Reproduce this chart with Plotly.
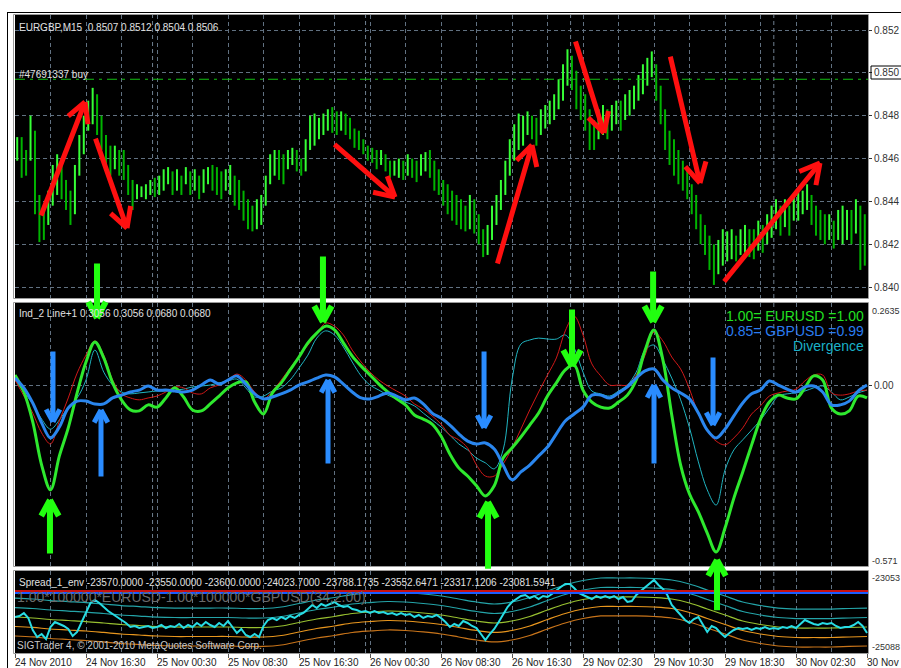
import math
import plotly.graph_objects as go

W, H = 901, 668
FONT = "Liberation Sans"

# ---------------- EURGBP M15 price bars (half-hour high / low) ----------------
bar_high = [
    0.8470, 0.8470, 0.8464, 0.8480, 0.8473, 0.8443, 0.8438, 0.8445, 0.8457, 0.8462,
    0.8459, 0.8450, 0.8445, 0.8457, 0.8471, 0.8480, 0.8487, 0.8493, 0.8490, 0.8480,
    0.8471, 0.8466, 0.8466, 0.8464, 0.8464, 0.8457, 0.8450, 0.8448, 0.8447, 0.8448,
    0.8450, 0.8451, 0.8452, 0.8455, 0.8456, 0.8454, 0.8455, 0.8452, 0.8456, 0.8454,
    0.8455, 0.8452, 0.8455, 0.8456, 0.8457, 0.8456, 0.8454, 0.8455, 0.8457, 0.8452,
    0.8450, 0.8445, 0.8441, 0.8438, 0.8441, 0.8443, 0.8452, 0.8462, 0.8464, 0.8464,
    0.8462, 0.8464, 0.8465, 0.8464, 0.8460, 0.8469, 0.8480, 0.8481, 0.8479, 0.8481,
    0.8483, 0.8484, 0.8482, 0.8482, 0.8481, 0.8479, 0.8474, 0.8473, 0.8469, 0.8466,
    0.8465, 0.8464, 0.8464, 0.8462, 0.8459, 0.8459, 0.8460, 0.8459, 0.8462, 0.8460,
    0.8459, 0.8462, 0.8463, 0.8464, 0.8459, 0.8455, 0.8450, 0.8448, 0.8445, 0.8443,
    0.8441, 0.8438, 0.8443, 0.8441, 0.8434, 0.8427, 0.8429, 0.8438, 0.8443, 0.8450,
    0.8459, 0.8469, 0.8476, 0.8481, 0.8480, 0.8482, 0.8480, 0.8479, 0.8483, 0.8485,
    0.8487, 0.8490, 0.8497, 0.8504, 0.8511, 0.8508, 0.8501, 0.8494, 0.8490, 0.8483,
    0.8478, 0.8483, 0.8485, 0.8483, 0.8485, 0.8487, 0.8487, 0.8490, 0.8492, 0.8494,
    0.8499, 0.8504, 0.8507, 0.8510, 0.8504, 0.8494, 0.8483, 0.8473, 0.8469, 0.8464,
    0.8459, 0.8455, 0.8448, 0.8443, 0.8434, 0.8429, 0.8424, 0.8420, 0.8422, 0.8427,
    0.8426, 0.8427, 0.8424, 0.8427, 0.8429, 0.8427, 0.8427, 0.8431, 0.8429, 0.8434,
    0.8438, 0.8441, 0.8438, 0.8441, 0.8438, 0.8443, 0.8445, 0.8445, 0.8448, 0.8443,
    0.8438, 0.8436, 0.8434, 0.8434, 0.8431, 0.8436, 0.8438, 0.8436, 0.8436, 0.8441,
    0.8438, 0.8434,
]
bar_low = [
    0.8459, 0.8451, 0.8452, 0.8459, 0.8434, 0.8421, 0.8422, 0.8429, 0.8438, 0.8443,
    0.8441, 0.8436, 0.8429, 0.8434, 0.8452, 0.8462, 0.8473, 0.8476, 0.8471, 0.8464,
    0.8455, 0.8452, 0.8455, 0.8452, 0.8450, 0.8443, 0.8436, 0.8441, 0.8442, 0.8441,
    0.8443, 0.8442, 0.8443, 0.8445, 0.8448, 0.8443, 0.8445, 0.8443, 0.8448, 0.8443,
    0.8445, 0.8441, 0.8444, 0.8448, 0.8445, 0.8443, 0.8441, 0.8445, 0.8443, 0.8438,
    0.8436, 0.8431, 0.8427, 0.8426, 0.8427, 0.8429, 0.8438, 0.8448, 0.8452, 0.8450,
    0.8448, 0.8455, 0.8457, 0.8454, 0.8452, 0.8454, 0.8464, 0.8466, 0.8469, 0.8471,
    0.8473, 0.8472, 0.8471, 0.8473, 0.8471, 0.8469, 0.8465, 0.8464, 0.8462, 0.8459,
    0.8458, 0.8455, 0.8457, 0.8454, 0.8451, 0.8452, 0.8451, 0.8450, 0.8452, 0.8451,
    0.8449, 0.8452, 0.8454, 0.8451, 0.8445, 0.8443, 0.8438, 0.8434, 0.8431, 0.8429,
    0.8427, 0.8426, 0.8427, 0.8425, 0.8420, 0.8414, 0.8415, 0.8422, 0.8429, 0.8436,
    0.8443, 0.8452, 0.8459, 0.8464, 0.8466, 0.8471, 0.8469, 0.8466, 0.8471, 0.8474,
    0.8476, 0.8478, 0.8483, 0.8487, 0.8494, 0.8492, 0.8483, 0.8478, 0.8473, 0.8464,
    0.8464, 0.8469, 0.8471, 0.8469, 0.8473, 0.8476, 0.8473, 0.8478, 0.8480, 0.8483,
    0.8487, 0.8490, 0.8494, 0.8498, 0.8487, 0.8476, 0.8464, 0.8457, 0.8452, 0.8448,
    0.8445, 0.8441, 0.8434, 0.8427, 0.8420, 0.8415, 0.8408, 0.8401, 0.8406, 0.8410,
    0.8412, 0.8413, 0.8412, 0.8415, 0.8416, 0.8414, 0.8413, 0.8417, 0.8416, 0.8420,
    0.8423, 0.8427, 0.8424, 0.8428, 0.8424, 0.8431, 0.8431, 0.8434, 0.8436, 0.8429,
    0.8424, 0.8422, 0.8420, 0.8422, 0.8418, 0.8422, 0.8420, 0.8422, 0.8420, 0.8425,
    0.8408, 0.8410,
]

# ---------------- Ind_2 indicator, hourly values ----------------
eurusd_line = [
    0.035, -0.019, -0.114, -0.251, -0.330, -0.222, -0.133, -0.022, 0.076, 0.140,
    0.089, 0.010, -0.044, -0.076, -0.079, -0.060, -0.067, -0.038, -0.006, -0.035,
    -0.076, -0.079, -0.057, -0.032, -0.006, 0.010, 0.013, -0.051, -0.089, -0.022,
    0.010, 0.051, 0.092, 0.137, 0.168, 0.190, 0.178, 0.137, 0.095, 0.063,
    0.035, 0.006, -0.019, -0.041, -0.060, -0.092, -0.105, -0.121, -0.159, -0.216,
    -0.260, -0.286, -0.317, -0.349, -0.317, -0.229, -0.197, -0.162, -0.124, -0.086,
    -0.032, 0.010, 0.051, 0.067, -0.013, -0.051, -0.067, -0.070, -0.051, -0.029,
    0.019, 0.114, 0.178, 0.083, -0.092, -0.251, -0.343, -0.400, -0.467, -0.527,
    -0.451, -0.356, -0.273, -0.187, -0.105, -0.051, -0.029, -0.038, -0.041, -0.006,
    0.032, 0.019, -0.070, -0.089, -0.079, -0.032, -0.038,
]
gbpusd_line = [
    0.025, -0.006, -0.054, -0.117, -0.165, -0.130, -0.070, -0.048, -0.048, -0.057,
    -0.057, -0.038, -0.029, -0.019, -0.013, 0.000, -0.013, -0.013, -0.016, -0.019,
    -0.013, 0.003, 0.019, 0.006, 0.019, 0.032, 0.006, -0.025, -0.041, -0.035,
    -0.025, -0.013, 0.003, 0.013, 0.025, 0.035, 0.029, 0.006, -0.019, -0.038,
    -0.041, -0.032, -0.022, -0.032, -0.044, -0.038, -0.057, -0.086, -0.102, -0.124,
    -0.152, -0.175, -0.184, -0.181, -0.200, -0.251, -0.298, -0.273, -0.251, -0.222,
    -0.194, -0.152, -0.111, -0.089, -0.067, -0.029, -0.029, -0.038, -0.022, -0.003,
    0.025, 0.048, 0.054, 0.019, -0.006, -0.022, -0.041, -0.086, -0.140, -0.165,
    -0.137, -0.095, -0.054, -0.025, -0.013, 0.016, 0.003, -0.010, -0.019, -0.003,
    0.000, -0.019, -0.060, -0.060, -0.048, -0.016, 0.003,
]
eurusd_raw = [
    0.019, -0.032, -0.086, -0.149, -0.184, -0.111, -0.038, 0.041, 0.098, 0.143,
    0.098, 0.019, -0.025, -0.038, -0.044, -0.038, -0.032, -0.019, -0.003, -0.006,
    -0.022, -0.025, -0.006, 0.003, 0.019, 0.038, 0.019, -0.019, -0.041, -0.016,
    0.019, 0.057, 0.095, 0.130, 0.165, 0.200, 0.190, 0.162, 0.114, 0.076,
    0.044, 0.019, 0.000, -0.016, -0.032, -0.057, -0.073, -0.095, -0.121, -0.156,
    -0.171, -0.197, -0.251, -0.286, -0.286, -0.248, -0.197, -0.137, -0.076, -0.019,
    0.035, 0.089, 0.175, 0.222, 0.162, 0.070, 0.032, 0.003, 0.003, 0.003,
    0.035, 0.098, 0.171, 0.143, 0.092, 0.054, -0.010, -0.089, -0.143, -0.175,
    -0.187, -0.165, -0.133, -0.089, -0.063, -0.032, -0.022, -0.016, -0.010, 0.016,
    0.035, 0.035, -0.022, -0.029, -0.025, -0.016, -0.013,
]
gbpusd_raw = [
    0.019, -0.019, -0.057, -0.105, -0.137, -0.108, -0.067, -0.038, 0.019, 0.114,
    0.044, 0.003, -0.019, -0.025, -0.022, -0.019, -0.016, -0.016, -0.013, -0.010,
    -0.003, 0.000, 0.003, 0.010, 0.016, 0.022, -0.006, -0.035, -0.032, -0.016,
    -0.006, 0.019, 0.057, 0.098, 0.152, 0.175, 0.162, 0.124, 0.076, 0.032,
    0.003, -0.013, -0.029, -0.041, -0.051, -0.063, -0.086, -0.108, -0.130, -0.156,
    -0.184, -0.203, -0.229, -0.244, -0.263, -0.203, 0.019, 0.133, 0.146, 0.152,
    0.149, 0.149, 0.162, 0.121, 0.044, -0.016, -0.025, -0.032, -0.016, 0.003,
    0.044, 0.114, 0.130, 0.083, 0.025, -0.044, -0.133, -0.241, -0.330, -0.378,
    -0.267, -0.203, -0.171, -0.140, -0.108, -0.070, -0.032, -0.025, -0.022, -0.016,
    -0.006, 0.000, -0.019, -0.044, -0.035, -0.022, -0.013,
]

# ---------------- Spread_1_env, half-hour spread and 2-hour envelope middle ----------------
spread_values = [
    -24195, -24170, -24095, -24219, -24517, -24691, -24617, -24741, -24443, -24319,
    -24368, -24418, -24492, -24666, -24567, -24319, -24071, -23847, -23773, -23847,
    -23946, -24046, -24120, -24195, -24269, -24343, -24443, -24418, -24468, -24443,
    -24418, -24468, -24443, -24393, -24468, -24418, -24443, -24368, -24468, -24393,
    -24443, -24343, -24418, -24319, -24393, -24443, -24343, -24418, -24294, -24443,
    -24592, -24492, -24641, -24691, -24617, -24691, -24418, -24269, -24219, -24269,
    -24195, -24244, -24170, -24219, -24145, -24095, -23996, -23897, -23971, -23872,
    -23922, -23872, -23822, -23897, -23946, -23922, -23996, -24021, -24071, -24046,
    -24095, -24046, -24095, -24071, -24120, -24095, -24145, -24095, -24145, -24120,
    -24195, -24145, -24219, -24170, -24195, -24145, -24219, -24319, -24443, -24368,
    -24418, -24294, -24343, -24418, -24468, -24617, -24766, -24617, -24492, -24319,
    -24120, -23946, -23822, -23748, -23674, -23649, -23723, -23674, -23748, -23674,
    -23698, -23624, -23525, -23450, -23376, -23376, -23475, -23599, -23649, -23698,
    -23748, -23674, -23723, -23674, -23723, -23674, -23748, -23698, -23822, -23798,
    -23649, -23549, -23450, -23351, -23276, -23400, -23500, -23649, -23897, -24021,
    -24145, -24269, -24343, -24244, -24195, -24393, -24567, -24418, -24468, -24592,
    -24691, -24592, -24517, -24468, -24492, -24468, -24517, -24468, -24492, -24443,
    -24492, -24468, -24492, -24443, -24468, -24418, -24468, -24368, -24269, -24319,
    -24368, -24393, -24343, -24368, -24343, -24418, -24468, -24443, -24443, -24393,
    -24319, -24418, -24592,
]
envelope_mid = [
    -24195, -24219, -24257, -24282, -24307, -24343, -24381, -24406, -24431, -24443,
    -24443, -24443, -24443, -24455, -24455, -24418, -24331, -24244, -24182, -24108,
    -24071, -24046, -24058, -24095, -24145, -24219, -24294, -24343, -24294, -24182,
    -24021, -23872, -23760, -23698, -23698, -23698, -23711, -23748, -23847, -23996,
    -24145, -24294, -24381, -24443, -24468, -24468, -24468, -24455, -24443,
]
envelope_step = 235.53
spread_red_level = -23550.0
spread_blue_level = -23600.0

# ---------------- axes / labels ----------------
time_labels = ["24 Nov 2010", "24 Nov 16:30", "25 Nov 00:30", "25 Nov 08:30", "25 Nov 16:30",
               "26 Nov 00:30", "26 Nov 08:30", "26 Nov 16:30", "29 Nov 02:30", "29 Nov 10:30",
               "29 Nov 18:30", "30 Nov 02:30", "30 Nov"]
label_hours = [0, 8, 16, 24, 32, 40, 48, 56, 64, 72, 80, 88, 96]
grid_hours = [4, 12, 20, 28, 36, 44, 52, 60, 68, 76, 84, 92]
day_breaks = [15.5, 39.5, 62.6, 85.5]
price_ticks = [0.840, 0.842, 0.844, 0.846, 0.848, 0.850, 0.852]
order_level = 0.8497

# hand-drawn arrows
red_arrows = [  # (tail hour, tail price, tip hour, tip price)
    (2.87, 0.84327, 7.89, 0.84864),
    (9.01, 0.84700, 12.62, 0.84275),
    (35.83, 0.84672, 42.82, 0.84420),
    (54.31, 0.84103, 58.25, 0.84663),
    (63.10, 0.85153, 66.37, 0.84719),
    (73.80, 0.85083, 77.18, 0.84486),
    (79.77, 0.84019, 90.70, 0.84579),
]
green_arrows = [  # (hour, tail value, tip value)
    (9.24, 0.394, 0.216),
    (3.94, -0.537, -0.362),
    (34.70, 0.416, 0.203),
    (53.30, -0.585, -0.368),
    (62.76, 0.248, 0.063),
    (71.90, 0.368, 0.203),
    (79.10, -0.717, -0.552),
]
blue_arrows = [
    (4.28, 0.114, -0.114),
    (9.69, -0.292, -0.076),
    (35.27, -0.251, 0.019),
    (52.85, 0.114, -0.133),
    (72.00, -0.251, 0.003),
    (78.65, 0.095, -0.124),
]

# ---------------- layout geometry (pixels) ----------------
X_LEFT, X_RIGHT = 15, 868
PX_PER_HOUR = 8.875
X_RANGE = [0, (X_RIGHT - X_LEFT) / PX_PER_HOUR]
PANELS = {"top": (15, 298), "mid": (303, 566), "bot": (571, 653)}
Y_RANGES = {"top": [0.83949, 0.85270], "mid": [-0.5716, 0.2635], "bot": [-25088.0, -23053.0]}
AXES = {"top": ("x", "y"), "mid": ("x2", "y2"), "bot": ("x3", "y3")}


def px(x):
    return x / W


def py(y):
    return 1 - y / H


def ydom(panel):
    a, b = PANELS[panel]
    return [py(b), py(a)]


def to_pixels(h, v, panel):
    x = X_LEFT + (h - X_RANGE[0]) / (X_RANGE[1] - X_RANGE[0]) * (X_RIGHT - X_LEFT)
    top, bot = PANELS[panel]
    lo, hi = Y_RANGES[panel]
    return x, top + (hi - v) / (hi - lo) * (bot - top)


fig = go.Figure()

# ---- price bars ----
up_x, up_y, dn_x, dn_y = [], [], [], []
prev_mid = None
for i, (hi, lo) in enumerate(zip(bar_high, bar_low)):
    t = 0.5 * i + 0.25
    mid = (hi + lo) / 2
    if prev_mid is None or mid >= prev_mid:
        up_x += [t, t, None]
        up_y += [lo, hi, None]
    else:
        dn_x += [t, t, None]
        dn_y += [lo, hi, None]
    prev_mid = mid
fig.add_trace(go.Scatter(x=dn_x, y=dn_y, mode="lines", line=dict(color="#00b400", width=2),
                         xaxis="x", yaxis="y", hoverinfo="skip"))
fig.add_trace(go.Scatter(x=up_x, y=up_y, mode="lines", line=dict(color="#36ff36", width=2),
                         xaxis="x", yaxis="y", hoverinfo="skip"))
fig.add_trace(go.Scatter(x=X_RANGE, y=[order_level, order_level], mode="lines",
                         line=dict(color="#12c012", width=1.2, dash="10px,5px,3px,5px"),
                         xaxis="x", yaxis="y", hoverinfo="skip"))

# ---- indicator lines ----
hours = list(range(len(eurusd_line)))
for vals, color, width in [(gbpusd_raw, "#20b4c0", 1), (eurusd_raw, "#d01818", 1),
                           (eurusd_line, "#2ee82e", 3), (gbpusd_line, "#2a86ee", 3)]:
    fig.add_trace(go.Scatter(x=hours, y=vals, mode="lines", line=dict(color=color, width=width, shape="spline"),
                             xaxis="x2", yaxis="y2", hoverinfo="skip"))

# ---- spread with envelope ----
env_hours = [2 * k for k in range(len(envelope_mid))]
for k, color in [(-2, "#c8741a"), (-1, "#e8961e"), (0, "#98c030"), (1, "#24a4a8"), (2, "#24a4a8")]:
    fig.add_trace(go.Scatter(x=env_hours, y=[m + k * envelope_step for m in envelope_mid], mode="lines",
                             line=dict(color=color, width=1.2, shape="spline"),
                             xaxis="x3", yaxis="y3", hoverinfo="skip"))
spread_hours = [0.5 * j for j in range(len(spread_values))]
fig.add_trace(go.Scatter(x=spread_hours, y=spread_values, mode="lines", line=dict(color="#28dce4", width=2),
                         xaxis="x3", yaxis="y3", hoverinfo="skip"))
for lvl, color in [(spread_blue_level, "#1a5cff"), (spread_red_level, "#c81010")]:
    fig.add_trace(go.Scatter(x=X_RANGE, y=[lvl, lvl], mode="lines", line=dict(color=color, width=2),
                             xaxis="x3", yaxis="y3", hoverinfo="skip"))


# ---- arrows ----
def add_arrow(h_tail, v_tail, h_tip, v_tip, panel, color, width, head):
    tx, ty = to_pixels(h_tip, v_tip, panel)
    sx, sy = to_pixels(h_tail, v_tail, panel)
    xr, yr = AXES[panel]
    common = dict(x=h_tip, y=v_tip, xref=xr, yref=yr, text="", showarrow=True, arrowhead=0,
                  arrowwidth=width, arrowcolor=color, standoff=0)
    fig.add_annotation(ax=sx - tx, ay=sy - ty, **common)
    dx, dy = sx - tx, sy - ty
    n = math.hypot(dx, dy)
    ux, uy = dx / n, dy / n
    for ang in (0.5, -0.5):
        wx = ux * math.cos(ang) - uy * math.sin(ang)
        wy = ux * math.sin(ang) + uy * math.cos(ang)
        fig.add_annotation(ax=wx * head, ay=wy * head, **common)


for a in red_arrows:
    add_arrow(a[0], a[1], a[2], a[3], "top", "#ff1010", 5, 24)
for h, tail, tip in green_arrows:
    add_arrow(h, tail, h, tip, "mid", "#22ff10", 6, 20)
for h, tail, tip in blue_arrows:
    add_arrow(h, tail, h, tip, "mid", "#2a8cff", 5, 16)


# ---- texts ----
def add_text(txt, x, y, size=10, color="#e0e0e0", anchor="left"):
    fig.add_annotation(text=txt, x=px(x), y=py(y), xref="paper", yref="paper", xanchor=anchor,
                       yanchor="middle", showarrow=False, borderpad=0,
                       font=dict(family=FONT, size=size, color=color))


add_text("EURGBP,M15\u00a0\u00a00.8507 0.8512 0.8504 0.8506", 18, 27)
add_text("#47691337 buy", 18, 74)
add_text("Ind_2 Line+1 0.3056 0.3056 0.0680 0.0680", 18, 313)
add_text("1.00= EURUSD =1.00", 865, 316, 14, "#22e022", "right")
add_text("0.85= GBPUSD =0.99", 865, 331, 14, "#2a7cf0", "right")
add_text("Divergence", 865, 346, 14, "#1ab0c8", "right")
add_text("Spread_1_env -23570.0000 -23550.0000 -23600.0000 -24023.7000 -23788.1735 -23552.6471 -23317.1206 -23081.5941",
         18, 582)
add_text("1.00*100000*EURUSD-1.00*100000*GBPUSD(34,2.00)", 16, 597, 14, "#6a6a6a")
add_text("SIGTrader 4, \u00a9 2001-2010 MetaQuotes Software Corp.", 16, 645, 10, "#c8c8c8")

# panel edge values on the right scale
add_text("0.2635", 871, 311, 9, "#333333")
add_text("-0.571", 871, 561, 9, "#333333")
add_text("-23053", 871, 578, 9, "#333333")
add_text("-25088", 871, 647, 9, "#333333")

# time labels under the bottom panel
for h, lab in zip(label_hours, time_labels):
    fig.add_annotation(text=lab, x=h, y=py(662), xref="x3", yref="paper", xanchor="left", yanchor="middle",
                       xshift=-2, showarrow=False, font=dict(family=FONT, size=10, color="#222222"))

# ---- shapes: period separators, frames, window border ----
shapes = []
for panel, (xr, yr) in AXES.items():
    for d in day_breaks:
        shapes.append(dict(type="line", xref=xr, yref=yr + " domain", x0=d, x1=d, y0=0, y1=1, layer="below",
                           line=dict(color="#6f7f8f", width=1, dash="4px,3px")))
for panel, (a, b) in PANELS.items():
    shapes.append(dict(type="rect", xref="paper", yref="paper", x0=px(13.5), x1=px(868.5),
                       y0=py(b + 0.5), y1=py(a - 0.5), line=dict(color="#9a9a9a", width=1)))
shapes.append(dict(type="line", xref="paper", yref="paper", x0=px(7.5), x1=px(7.5), y0=0, y1=py(12),
                   line=dict(color="#000000", width=1)))
shapes.append(dict(type="line", xref="paper", yref="paper", x0=px(7), x1=1, y0=py(12.5), y1=py(12.5),
                   line=dict(color="#000000", width=1)))
# bid label box on the price scale
shapes.append(dict(type="rect", xref="paper", yref="paper", x0=px(871), x1=px(905), y0=py(79), y1=py(66),
                   line=dict(color="#000000", width=1)))

grid = dict(color="#617181", dash="4px,3px")


def xaxis(anchor, ticks=""):
    return dict(domain=[px(X_LEFT), px(X_RIGHT)], range=X_RANGE, anchor=anchor, showticklabels=False,
                tickmode="array", tickvals=label_hours, ticks=ticks, ticklen=4, tickcolor="#555555",
                showgrid=True, gridcolor=grid["color"], griddash=grid["dash"], gridwidth=1, zeroline=False,
                minor=dict(tickmode="array", tickvals=grid_hours, showgrid=True, gridcolor=grid["color"],
                           griddash=grid["dash"], ticks=""),
                fixedrange=True)


def yaxis(panel, anchor, tickvals, ticktext):
    return dict(domain=ydom(panel), range=Y_RANGES[panel], anchor=anchor, side="right",
                tickmode="array", tickvals=tickvals, ticktext=ticktext, ticks="outside", ticklen=3,
                tickcolor="#333333", tickfont=dict(family=FONT, size=10, color="#333333"),
                showgrid=True, gridcolor=grid["color"], griddash=grid["dash"], gridwidth=1,
                zeroline=False, showline=False, fixedrange=True)


fig.update_layout(
    width=W, height=H, margin=dict(l=0, r=0, t=0, b=0),
    paper_bgcolor="#ffffff", plot_bgcolor="#000000", showlegend=False,
    xaxis=xaxis("y"), xaxis2=xaxis("y2"), xaxis3=xaxis("y3", "outside"),
    yaxis=yaxis("top", "x", price_ticks, ["%.3f" % p for p in price_ticks]),
    yaxis2=yaxis("mid", "x2", [0.0], ["0.00"]),
    yaxis3=yaxis("bot", "x3", [], []),
    shapes=shapes,
)

fig.write_html("out.html")
